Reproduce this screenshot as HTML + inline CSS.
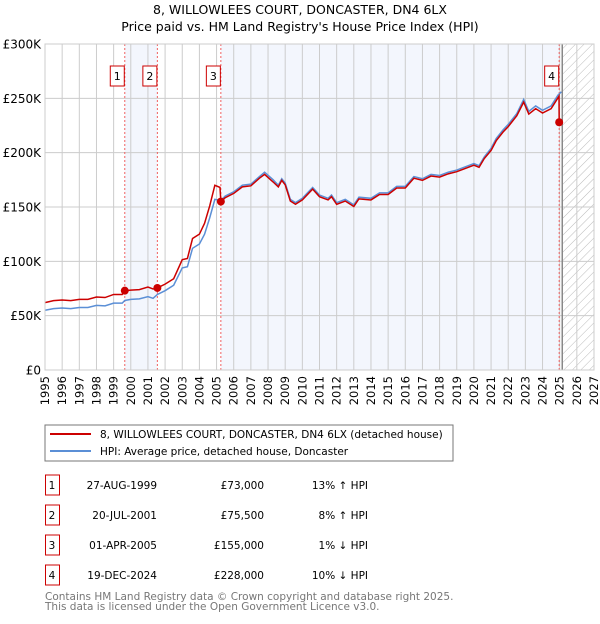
<!DOCTYPE html>
<html><head><meta charset="utf-8"><style>
body{margin:0;background:#fff;width:600px;height:620px;overflow:hidden;font-family:"DejaVu Sans","Liberation Sans",sans-serif}
svg text{font-family:"DejaVu Sans","Liberation Sans",sans-serif}
</style></head><body>
<svg id="chart" width="600" height="620">
<defs><pattern id="hatch" width="6" height="6" patternUnits="userSpaceOnUse" patternTransform="rotate(45)"><line x1="0" y1="0" x2="0" y2="6" stroke="#bbb" stroke-width="1"/></pattern></defs>
<text x="300" y="14" text-anchor="middle" font-size="12.5">8, WILLOWLEES COURT, DONCASTER, DN4 6LX</text>
<text x="300" y="31" text-anchor="middle" font-size="12.5">Price paid vs. HM Land Registry's House Price Index (HPI)</text>
<g id="plot"></g>
<rect x="45" y="425" width="408" height="36" fill="#fff" stroke="#777"/>
<line x1="50" y1="434" x2="91" y2="434" stroke="#cc0000" stroke-width="2"/>
<text x="100" y="438" font-size="10.5">8, WILLOWLEES COURT, DONCASTER, DN4 6LX (detached house)</text>
<line x1="50" y1="451" x2="91" y2="451" stroke="#5b8fd6" stroke-width="2"/>
<text x="100" y="455" font-size="10.5">HPI: Average price, detached house, Doncaster</text>
<g id="table" font-size="10.5"></g>
<text x="45" y="600" font-size="10.5" fill="#777">Contains HM Land Registry data © Crown copyright and database right 2025.</text>
<text x="45" y="610" font-size="10.5" fill="#777">This data is licensed under the Open Government Licence v3.0.</text>
</svg>
<script>
const hpiT=[1995,1995.5,1996,1996.5,1997,1997.5,1998,1998.5,1999,1999.5,1999.65,2000,2000.5,2001,2001.3,2001.55,2002,2002.5,2003,2003.3,2003.6,2004,2004.3,2004.6,2004.9,2005.25,2005.5,2006,2006.5,2007,2007.5,2007.8,2008.3,2008.6,2008.8,2009,2009.3,2009.6,2010,2010.6,2011,2011.5,2011.7,2012,2012.5,2013,2013.3,2014,2014.5,2015,2015.5,2016,2016.5,2017,2017.5,2018,2018.5,2019,2019.5,2020,2020.3,2020.6,2021,2021.3,2021.7,2022,2022.5,2022.9,2023.2,2023.6,2024,2024.5,2024.9,2025.1];
const hpiV=[55,56.5,57,56.5,57.5,57.5,59.5,59,61.5,61.5,64,65,65.5,67.5,66,69.5,73,78,94,95,112,116,125,140,157,156,160,164,170,171,178,182,175,170,176,172,157,154,158,168,161,158,161,154,157,152,159,158,163,163,169,169,178,176,180,179,182,184,187,190,188,196,204,213,221,226,236,249,238,243,239,243,253,256];
const redT=[1995,1995.5,1996,1996.5,1997,1997.5,1998,1998.5,1999,1999.5,1999.65,2000,2000.5,2001,2001.3,2001.55,2002,2002.5,2003,2003.3,2003.6,2004,2004.3,2004.6,2004.9,2005.2,2005.25,2005.5,2006,2006.5,2007,2007.5,2007.8,2008.3,2008.6,2008.8,2009,2009.3,2009.6,2010,2010.6,2011,2011.5,2011.7,2012,2012.5,2013,2013.3,2014,2014.5,2015,2015.5,2016,2016.5,2017,2017.5,2018,2018.5,2019,2019.5,2020,2020.3,2020.6,2021,2021.3,2021.7,2022,2022.5,2022.9,2023.2,2023.6,2024,2024.5,2024.9,2024.96,2024.97];
const redV=[62,63.8,64.4,63.8,65,65,67.2,66.7,69.5,69.5,73,73.5,74,76.3,74.6,75.5,79,84,101.5,102.6,121,125,135,151,170,168,155,158.5,162.5,168.5,169.5,176.5,180,173,168.5,174.5,170.5,155.5,152.5,156.5,166.5,159.5,156.5,159.5,152.5,155.5,150.5,157.5,156.5,161.5,161.5,167.5,167.5,176.5,174.5,178.5,177.5,180.5,182.5,185.5,188.5,186.5,194.5,202,211,219,224,234,246.5,235.5,240.5,236.5,240.5,250.5,252,228];
const saleT=[1999.65,2001.55,2005.25,2024.97];
const saleV=[73,75.5,155,228];
const saleLabels=["1","2","3","4"];
const saleDates=["27-AUG-1999","20-JUL-2001","01-APR-2005","19-DEC-2024"];
const salePrices=["£73,000","£75,500","£155,000","£228,000"];
const saleHpi=["13% ↑ HPI","8% ↑ HPI","1% ↓ HPI","10% ↓ HPI"];
const yTicks=[0,50,100,150,200,250,300];
const yTickLabels=["£0","£50K","£100K","£150K","£200K","£250K","£300K"];
const years=[1995,1996,1997,1998,1999,2000,2001,2002,2003,2004,2005,2006,2007,2008,2009,2010,2011,2012,2013,2014,2015,2016,2017,2018,2019,2020,2021,2022,2023,2024,2025,2026,2027];
const dataEnd=2025.15;
const X0=45,X1=594,Y0=370,Y1=44;
const x=t=>X0+(t-1995)/(2027-1995)*(X1-X0);
const y=v=>Y0-v/300*(Y0-Y1);
const NS="http://www.w3.org/2000/svg";
const plot=document.getElementById('plot');
function mk(tag,attrs,parent){const e=document.createElementNS(NS,tag);for(const k in attrs)e.setAttribute(k,attrs[k]);(parent||plot).appendChild(e);return e;}
mk('rect',{x:X0,y:Y1,width:X1-X0,height:Y0-Y1,fill:'#fff'});
let r=mk('rect',{x:x(saleT[0]),y:Y1,width:x(saleT[1])-x(saleT[0]),height:Y0-Y1,fill:'#f3f6fd'});


r=mk('rect',{x:x(saleT[2]),y:Y1,width:x(saleT[3])-x(saleT[2]),height:Y0-Y1,fill:'#f3f6fd'});


r=mk('rect',{x:x(dataEnd),y:Y1,width:X1-x(dataEnd),height:Y0-Y1,fill:'url(#hatch)'});


years.forEach(yr=>{
 const l=mk('line',{x1:x(yr),x2:x(yr),y1:Y1,y2:Y0,stroke:'#ccc','stroke-width':1});
 
 
 const t=mk('text',{x:0,y:0,'font-size':11.5,'text-anchor':'end',transform:`translate(${x(yr)+4},${Y0+6}) rotate(-90)`});
 t.textContent=yr;
 
 
});
yTicks.forEach((v,i)=>{
 const l=mk('line',{x1:X0,x2:X1,y1:y(v),y2:y(v),stroke:'#ccc','stroke-width':1});
 
 
 const t=mk('text',{x:X0-4,y:y(v)+4.5,'font-size':12,'text-anchor':'end'});
 t.textContent=yTickLabels[i];
 
 
});
r=mk('line',{x1:x(dataEnd),x2:x(dataEnd),y1:Y1,y2:Y0,stroke:'#888','stroke-width':1.5});


saleT.forEach((t,i)=>{
 const l=mk('line',{x1:x(t),x2:x(t),y1:Y1,y2:Y0,stroke:'#f06060','stroke-width':1,'stroke-dasharray':'2,2'});
 
 
});
const hp=mk('polyline',{points:hpiT.map((t,i)=>x(t)+','+y(hpiV[i])).join(' '),fill:'none',stroke:'#5b8fd6','stroke-width':1.5});


const rp=mk('polyline',{points:redT.map((t,i)=>x(t)+','+y(redV[i])).join(' '),fill:'none',stroke:'#cc0000','stroke-width':1.5});


saleT.forEach((t,i)=>{
 const c=mk('circle',{cx:x(t),cy:y(saleV[i]),r:4,fill:'#cc0000'});
 
 
 const bx=mk('rect',{x:x(t)-14.5,y:66,width:14,height:20,fill:'#fff',stroke:'#cc0000'});
 
 
 const tx=mk('text',{x:x(t)-7.5,y:80,'font-size':11,'text-anchor':'middle'});
 tx.textContent=saleLabels[i];
 
 
});
mk('rect',{x:X0,y:Y1,width:X1-X0,height:Y0-Y1,fill:'none',stroke:'#ccc'});
const tb=document.getElementById('table');
saleLabels.forEach((lab,i)=>{
 const yy=485+i*30;
 const b=mk('rect',{x:45.5,y:yy-10,width:14,height:20,fill:'#fff',stroke:'#cc0000'},tb);
 
 
 const cells=[[52,'middle',lab,'num'],[157,'end',saleDates[i],'date'],[264,'end',salePrices[i],'price'],[368,'end',saleHpi[i],'hpi']];
 cells.forEach(c=>{
  const t=mk('text',{x:c[0],y:yy+4,'text-anchor':c[1]},tb);
  t.textContent=c[2];
  
  
 });
});
</script>
</body></html>
